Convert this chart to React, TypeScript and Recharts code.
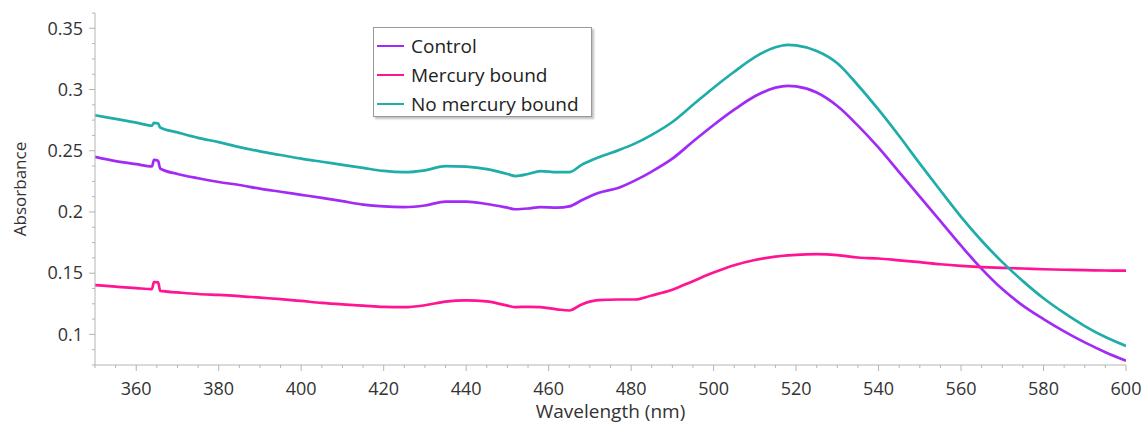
import React from "react";
import { LineChart, Line, XAxis, YAxis, Legend, Label } from "recharts";

const wavelengths = [
  350, 355, 360, 363.8, 364.3, 365.3, 365.8, 370, 375, 380, 385, 390, 395, 400, 405, 410, 415, 420, 425, 430,
  435, 440, 445, 450, 452, 455, 458, 462, 465, 468, 472, 477, 481, 485, 490, 495, 500, 505, 510, 515,
  518, 520, 525, 530, 535, 540, 545, 550, 555, 560, 565, 570, 575, 580, 585, 590, 595, 600,
];

const control = [
  0.245, 0.2415, 0.239, 0.2372, 0.2425, 0.2418, 0.2355, 0.231, 0.2275, 0.2245, 0.222, 0.219, 0.2165, 0.214, 0.2115, 0.2088, 0.206, 0.2045, 0.204, 0.2053,
  0.2085, 0.2085, 0.2065, 0.2035, 0.2022, 0.2028, 0.204, 0.2035, 0.2045, 0.2095, 0.2155, 0.2198, 0.2258, 0.233, 0.2435, 0.2575, 0.271, 0.2835, 0.2945, 0.3015,
  0.303, 0.3025, 0.2975, 0.2865, 0.2705, 0.2525, 0.2325, 0.2125, 0.1925, 0.1725, 0.1535, 0.137, 0.1235, 0.1125, 0.1025, 0.0935, 0.0855, 0.0785,
];

const mercuryBound = [
  0.1403, 0.139, 0.1378, 0.137, 0.1428, 0.1425, 0.1355, 0.1343, 0.133, 0.1322, 0.1313, 0.13, 0.1288, 0.1273, 0.1257, 0.1245, 0.1235, 0.1225, 0.1222, 0.1238,
  0.1268, 0.1278, 0.127, 0.1235, 0.1223, 0.1225, 0.1222, 0.1205, 0.1195, 0.1245, 0.128, 0.1285, 0.1285, 0.1318, 0.1365, 0.1435, 0.1505, 0.1565, 0.1608, 0.1635,
  0.1645, 0.165, 0.1655, 0.1648, 0.1628, 0.162, 0.1605, 0.159, 0.1573, 0.156, 0.155, 0.1543, 0.1538, 0.1532, 0.1528, 0.1525, 0.1522, 0.152,
];

const noMercury = [
  0.279, 0.276, 0.273, 0.2705, 0.2728, 0.2722, 0.269, 0.265, 0.2605, 0.257, 0.253, 0.2495, 0.2465, 0.2435, 0.241, 0.2385, 0.236, 0.2335, 0.2325, 0.234,
  0.2375, 0.237, 0.235, 0.231, 0.2293, 0.231, 0.2334, 0.2325, 0.2325, 0.2385, 0.2445, 0.2505, 0.256, 0.263, 0.2735, 0.2875, 0.3015, 0.3145, 0.3265, 0.3345,
  0.3365, 0.336, 0.3315, 0.3215, 0.3035, 0.2835, 0.262, 0.2395, 0.2175, 0.196, 0.1765, 0.159, 0.1435, 0.1295, 0.1175, 0.1068, 0.0978, 0.0905,
];

// tick positions (majors get labels, the rest are minor marks)
const xTicks = [
  350, 355, 360, 365, 370, 375, 380, 385, 390, 395, 400, 405, 410, 415, 420, 425, 430, 435, 440, 445, 450, 455, 460, 465, 470,
  475, 480, 485, 490, 495, 500, 505, 510, 515, 520, 525, 530, 535, 540, 545, 550, 555, 560, 565, 570, 575, 580, 585, 590, 595, 600,
];
const xLabels = [360, 380, 400, 420, 440, 460, 480, 500, 520, 540, 560, 580, 600];

const yTicks = [
  0.075, 0.0875, 0.1, 0.1125, 0.125, 0.1375, 0.15, 0.1625, 0.175, 0.1875, 0.2, 0.2125, 0.225, 0.2375, 0.25, 0.2625,
  0.275, 0.2875, 0.3, 0.3125, 0.325, 0.3375, 0.35, 0.3625,
];
const yLabels = [0.1, 0.15, 0.2, 0.25, 0.3, 0.35];

const data = wavelengths.map((w, i) => ({
  w,
  control: control[i],
  mercury: mercuryBound[i],
  noMercury: noMercury[i],
}));

const AXIS = "#b4b4b4";
const TEXT = "#333";
const FONT = "'Open Sans', sans-serif";

const XTick = (props: any) => {
  const { x, y, payload } = props;
  const major = xLabels.includes(payload.value);
  return (
    <g>
      <line x1={x} x2={x} y1={y} y2={y + (major ? 6 : 3)} stroke={AXIS} />
      {major && (
        <text x={x} y={y + 30} textAnchor="middle" fill={TEXT} fontSize={18} fontFamily={FONT}>
          {payload.value}
        </text>
      )}
    </g>
  );
};

const YTick = (props: any) => {
  const { x, y, payload } = props;
  const major = yLabels.some((v) => Math.abs(v - payload.value) < 1e-6);
  return (
    <g>
      <line x1={x - (major ? 6 : 3)} x2={x} y1={y} y2={y} stroke={AXIS} />
      {major && (
        <text x={x - 12} y={y} dy="0.35em" textAnchor="end" fill={TEXT} fontSize={18} fontFamily={FONT}>
          {payload.value}
        </text>
      )}
    </g>
  );
};

const LegendBox = (props: any) => {
  const { payload } = props;
  return (
    <div
      style={{
        boxSizing: "border-box",
        width: 219,
        height: 90,
        border: "1px solid #999",
        background: "#fff",
        boxShadow: "2px 2px 2px rgba(0,0,0,0.25)",
        padding: "3px 0 0 3px",
        fontFamily: FONT,
        fontSize: 19,
        color: "#222",
      }}
    >
      {(payload || []).map((entry: any) => (
        <div key={entry.value} style={{ display: "flex", alignItems: "center", height: 29, whiteSpace: "nowrap" }}>
          <span style={{ display: "inline-block", width: 27, borderTop: `2.5px solid ${entry.color}`, marginRight: 7 }} />
          <span>{entry.value}</span>
        </div>
      ))}
    </div>
  );
};

export default function App() {
  return (
    <div style={{ position: "absolute", left: 0, top: 0, background: "#fff" }}>
      <LineChart width={1146} height={423} data={data} margin={{ top: 13, right: 20, bottom: 0, left: 0 }}>
        <XAxis
          dataKey="w"
          type="number"
          domain={[350, 600]}
          ticks={xTicks}
          interval={0}
          height={58}
          stroke={AXIS}
          tickLine={false}
          tickSize={0}
          tickMargin={0}
          tick={<XTick />}
          allowDataOverflow
        >
          <Label value="Wavelength (nm)" position="insideBottom" offset={5} fill={TEXT} fontSize={19} fontFamily={FONT} />
        </XAxis>
        <YAxis
          type="number"
          domain={[0.075, 0.3625]}
          ticks={yTicks}
          interval={0}
          width={95}
          stroke={AXIS}
          tickLine={false}
          tickSize={0}
          tickMargin={0}
          tick={<YTick />}
          allowDataOverflow
        >
          <Label
            value="Absorbance"
            angle={-90}
            position="insideLeft"
            offset={20}
            fill={TEXT}
            fontSize={17}
            fontFamily={FONT}
            style={{ textAnchor: "middle" }}
          />
        </YAxis>
        <Legend
          layout="vertical"
          align="center"
          verticalAlign="middle"
          content={<LegendBox />}
          wrapperStyle={{ left: 373, top: 27, width: 219, height: 90 }}
        />
        <Line type="monotone" dataKey="control" name="Control" stroke="#a12bf5" strokeWidth={2.7} dot={false} isAnimationActive={false} />
        <Line type="monotone" dataKey="mercury" name="Mercury bound" stroke="#ff1493" strokeWidth={2.7} dot={false} isAnimationActive={false} />
        <Line type="monotone" dataKey="noMercury" name="No mercury bound" stroke="#1fadaa" strokeWidth={2.7} dot={false} isAnimationActive={false} />
      </LineChart>
    </div>
  );
}
